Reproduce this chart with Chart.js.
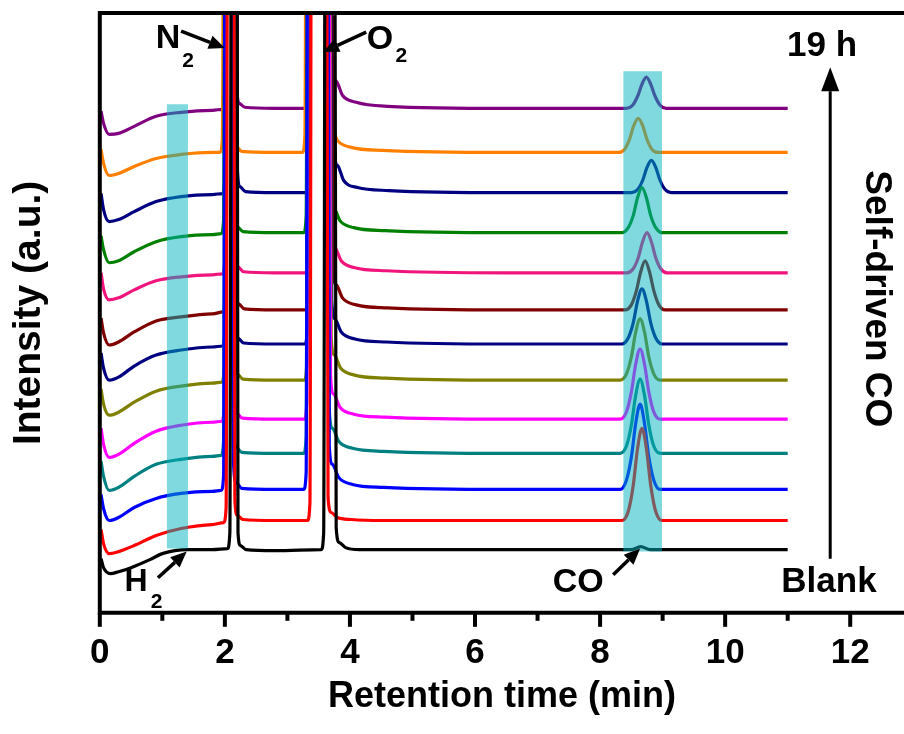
<!DOCTYPE html>
<html>
<head>
<meta charset="utf-8">
<script src="https://cdn.jsdelivr.net/npm/chart.js@4"></script>
<style>
  html, body { margin: 0; padding: 0; background: #fff; }
  #wrap { width: 904px; height: 734px; }
</style>
</head>
<body>
<div id="wrap"><canvas id="gc"></canvas></div>
<script>
// [retention time (min), intensity (a.u.)], bottom to top
const blank = [[0.02,54],[0.06,45],[0.17,39],[0.3,41],[0.5,45],[0.8,53],[1.0,59],[1.4,63],[1.8,63],
  [2.04,64],[2.08,80],[2.11,950],[2.19,950],[2.21,80],[2.25,67],[2.34,63],[2.8,62],
  [3.54,63],[3.58,80],[3.61,950],[3.75,950],[3.78,85],[3.83,70],[3.93,65],[4.15,63],[6.5,63],
  [8.5,63],[8.65,66],[8.8,63],[11,63]];
const run01 = [[0.02,83],[0.06,69],[0.15,59],[0.3,61],[0.55,67],[0.9,77],[1.3,84],[1.8,88],
  [1.98,90],[2.02,105],[2.05,950],[2.14,950],[2.16,112],[2.2,97],[2.29,93],[2.8,92],
  [3.32,92],[3.36,109],[3.39,950],[3.62,950],[3.65,115],[3.7,100],[3.8,95],[4.02,93],[4.52,92],[6.5,92],
  [8.35,92],[8.45,101],[8.53,127],[8.6,164],[8.67,184],[8.74,164],[8.81,127],[8.89,101],[8.99,92],[11,92]];
const run02 = [[0.02,118],[0.06,104],[0.15,92],[0.3,95],[0.55,105],[0.9,114],[1.3,119],[1.8,121],
  [1.94,122],[1.98,137],[2.01,950],[2.12,950],[2.14,147],[2.18,130],[2.27,124],[2.8,123],
  [3.26,123],[3.3,140],[3.33,950],[3.64,950],[3.67,166],[3.72,148],[3.82,135],[4.04,128],[4.54,125],[6.5,123],
  [8.32,123],[8.42,132],[8.5,155],[8.57,189],[8.64,208],[8.71,189],[8.78,155],[8.86,132],[8.96,123],[11,123]];
const run03 = [[0.02,151],[0.06,136],[0.15,122],[0.3,125],[0.55,136],[0.9,148],[1.3,153],[1.8,156],
  [1.94,157],[1.98,172],[2.01,950],[2.12,950],[2.14,182],[2.18,165],[2.27,160],[2.8,159],
  [3.26,159],[3.3,176],[3.33,950],[3.64,950],[3.67,202],[3.72,184],[3.82,171],[4.04,164],[4.54,161],[6.5,159],
  [8.32,159],[8.42,166],[8.5,187],[8.57,217],[8.64,233],[8.71,217],[8.78,187],[8.86,166],[8.96,159],[11,159]];
const run04 = [[0.02,184],[0.06,168],[0.15,155],[0.3,158],[0.55,169],[0.9,181],[1.3,187],[1.8,190],
  [1.95,191],[1.99,206],[2.02,950],[2.13,950],[2.15,216],[2.19,199],[2.28,194],[2.8,193],
  [3.27,193],[3.31,210],[3.34,950],[3.66,950],[3.69,236],[3.74,218],[3.84,205],[4.06,198],[4.56,195],[6.5,193],
  [8.32,193],[8.42,200],[8.5,220],[8.57,248],[8.64,263],[8.71,248],[8.78,220],[8.86,200],[8.96,193],[11,193]];
const run05 = [[0.02,223],[0.06,208],[0.15,197],[0.3,200],[0.55,210],[0.9,221],[1.3,226],[1.8,229],
  [1.95,230],[1.99,245],[2.02,950],[2.14,950],[2.16,255],[2.2,238],[2.29,233],[2.8,232],
  [3.27,232],[3.31,249],[3.34,950],[3.67,950],[3.7,275],[3.75,257],[3.85,244],[4.07,237],[4.57,234],[6.5,232],
  [8.32,232],[8.42,238],[8.5,255],[8.57,280],[8.64,293],[8.71,280],[8.78,255],[8.86,238],[8.96,232],[11,232]];
const run06 = [[0.02,259],[0.06,244],[0.15,232],[0.3,235],[0.55,246],[0.9,257],[1.3,262],[1.8,265],
  [1.96,266],[2.0,281],[2.03,950],[2.15,950],[2.17,291],[2.21,274],[2.3,269],[2.8,268],
  [3.28,268],[3.32,285],[3.35,950],[3.68,950],[3.71,311],[3.76,293],[3.86,280],[4.08,273],[4.58,270],[6.5,268],
  [8.35,268],[8.45,274],[8.53,289],[8.6,311],[8.67,323],[8.74,311],[8.81,289],[8.89,274],[8.99,268],[11,268]];
const run07 = [[0.02,294],[0.06,279],[0.15,267],[0.3,270],[0.55,280],[0.9,291],[1.3,295],[1.8,298],
  [1.97,300],[2.01,315],[2.04,950],[2.16,950],[2.18,325],[2.22,308],[2.31,303],[2.8,302],
  [3.3,302],[3.34,319],[3.37,950],[3.7,950],[3.73,345],[3.78,327],[3.88,314],[4.1,307],[4.6,304],[6.5,302],
  [8.4,302],[8.5,307],[8.58,321],[8.65,340],[8.72,351],[8.79,340],[8.86,321],[8.94,307],[9.04,302],[11,302]];
const run08 = [[0.02,339],[0.06,323],[0.15,312],[0.3,314],[0.55,322],[0.9,331],[1.3,335],[1.8,337],
  [1.96,338],[2.0,352],[2.03,950],[2.15,950],[2.17,362],[2.21,345],[2.3,340],[2.8,339],
  [3.29,339],[3.33,356],[3.36,950],[3.68,950],[3.71,384],[3.76,364],[3.86,351],[4.08,344],[4.58,341],[6.5,339],
  [8.43,339],[8.53,343],[8.61,354],[8.68,370],[8.75,379],[8.82,370],[8.89,354],[8.97,343],[9.07,339],[11,339]];
const run09 = [[0.02,376],[0.06,362],[0.15,349],[0.3,351],[0.55,360],[0.9,370],[1.3,375],[1.8,377],
  [1.94,378],[1.98,392],[2.01,950],[2.14,950],[2.16,402],[2.2,385],[2.29,380],[2.8,379],
  [3.26,379],[3.3,396],[3.33,950],[3.66,950],[3.69,424],[3.74,404],[3.84,391],[4.06,384],[4.56,381],[6.5,379],
  [8.35,379],[8.45,384],[8.53,396],[8.6,414],[8.67,424],[8.74,414],[8.81,396],[8.89,384],[8.99,379],[11,379]];
const run10 = [[0.02,418],[0.06,402],[0.15,390],[0.3,392],[0.55,400],[0.9,410],[1.3,415],[1.8,417],
  [1.96,418],[2.0,432],[2.03,950],[2.18,950],[2.2,442],[2.24,425],[2.33,420],[2.8,419],
  [3.29,419],[3.33,436],[3.36,950],[3.72,950],[3.75,462],[3.8,446],[3.9,431],[4.12,424],[4.62,421],[6.5,419],
  [8.5,419],[8.6,422],[8.68,431],[8.75,444],[8.82,451],[8.89,444],[8.96,431],[9.04,422],[9.14,419],[11,419]];
const run11 = [[0.02,462],[0.06,448],[0.15,436],[0.3,438],[0.55,445],[0.9,453],[1.3,457],[1.8,459],
  [1.92,459],[1.96,472],[1.99,950],[2.12,950],[2.14,480],[2.18,465],[2.27,460],[2.8,459],
  [3.24,459],[3.28,476],[3.31,950],[3.62,950],[3.65,504],[3.7,484],[3.8,471],[4.02,464],[4.52,461],[6.5,459],
  [8.29,459],[8.39,462],[8.47,472],[8.54,486],[8.61,493],[8.68,486],[8.75,472],[8.83,462],[8.93,459],[11,459]];
const run12 = [[0.02,500],[0.06,488],[0.15,477],[0.3,478],[0.55,485],[0.9,495],[1.3,499],[1.8,501],
  [1.96,502],[2.0,515],[2.03,950],[2.17,950],[2.19,525],[2.23,508],[2.32,504],[2.8,503],
  [3.29,503],[3.33,520],[3.36,950],[3.7,950],[3.73,545],[3.78,530],[3.88,516],[4.1,509],[4.6,505],[6.5,503],
  [8.42,503],[8.52,506],[8.6,515],[8.67,527],[8.74,534],[8.81,527],[8.88,515],[8.96,506],[9.06,503],[11,503]];

const traces = [blank, run01, run02, run03, run04, run05, run06, run07, run08, run09, run10, run11, run12];
const traceColors = ['#000000', '#ff0000', '#0000ff', '#008080', '#ff00ff', '#808000',
  '#000080', '#800000', '#f0147c', '#008000', '#000080', '#ff8000', '#800080'];

// highlighted retention windows: [start, end] in min, [low, high] in a.u.
const h2Window = [1.07, 1.41];
const h2Span = [64, 507];
const coWindow = [8.37, 8.99];
const coSpan = [61, 540];

const xTicks = [0, 2, 4, 6, 8, 10, 12];

const FONT = "Arial, 'Liberation Sans', sans-serif";

const bandSet = (win, span) => ({
  data: [[win[0], span[1]], [win[1], span[1]]],
  fill: { value: span[0] },
  backgroundColor: 'rgba(0,180,190,0.5)',
  borderWidth: 0,
  pointRadius: 0,
  order: 0
});

const notes = {
  id: 'notes',
  afterDatasetsDraw(chart) {
    const { ctx, chartArea: a, scales: { x, y } } = chart;
    const X = t => x.getPixelForValue(t);
    const Y = v => y.getPixelForValue(v);
    ctx.save();
    ctx.fillStyle = '#000';
    ctx.strokeStyle = '#000';

    // frame: top, left, bottom (right edge is outside the picture)
    ctx.lineWidth = 4;
    ctx.beginPath();
    ctx.moveTo(a.right, a.top);
    ctx.lineTo(a.left, a.top);
    ctx.lineTo(a.left, a.bottom);
    ctx.lineTo(a.right, a.bottom);
    ctx.stroke();

    x.ticks.forEach(tk => {
      const p = X(tk.value);
      const len = xTicks.includes(tk.value) ? 14 : 8;
      ctx.beginPath();
      ctx.moveTo(p, a.bottom);
      ctx.lineTo(p, a.bottom + len);
      ctx.stroke();
    });

    const text = (s, t, v, size, rot) => {
      ctx.save();
      ctx.font = `bold ${size}px ${FONT}`;
      ctx.textAlign = 'center';
      ctx.textBaseline = 'middle';
      ctx.translate(X(t), Y(v));
      if (rot) ctx.rotate(rot);
      ctx.fillText(s, 0, 0);
      ctx.restore();
    };
    const arrow = (t1, v1, t2, v2, w, head, half) => {
      const x1 = X(t1), y1 = Y(v1), x2 = X(t2), y2 = Y(v2);
      const ang = Math.atan2(y2 - y1, x2 - x1);
      const bx = x2 - head * Math.cos(ang), by = y2 - head * Math.sin(ang);
      ctx.lineWidth = w;
      ctx.beginPath();
      ctx.moveTo(x1, y1);
      ctx.lineTo(bx, by);
      ctx.stroke();
      ctx.beginPath();
      ctx.moveTo(x2, y2);
      ctx.lineTo(bx + half * Math.sin(ang), by - half * Math.cos(ang));
      ctx.lineTo(bx - half * Math.sin(ang), by + half * Math.cos(ang));
      ctx.closePath();
      ctx.fill();
    };

    text('N', 1.09, 572, 34);
    text('2', 1.41, 550, 21);
    arrow(1.30, 580, 2.0, 563, 3.5, 16, 7);
    text('O', 4.48, 571, 34);
    text('2', 4.82, 555, 21);
    arrow(4.26, 579, 3.57, 559, 3.5, 16, 7);
    text('H', 0.58, 31, 32);
    text('2', 0.91, 11, 21);
    arrow(0.93, 35, 1.39, 61, 3.5, 16, 7);
    text('CO', 7.65, 30, 34);
    arrow(8.21, 38, 8.64, 64, 3.5, 16, 7);
    text('19 h', 11.55, 565, 35);
    arrow(11.68, 54, 11.68, 544, 3, 24, 9);
    text('Blank', 11.66, 30, 35);
    text('Self-driven CO', 12.42, 313, 37, Math.PI / 2);
    ctx.restore();
  }
};

new Chart(document.getElementById('gc'), {
  type: 'line',
  data: {
    datasets: [
      bandSet(h2Window, h2Span),
      bandSet(coWindow, coSpan),
      ...traces.map((d, i) => ({
        data: d,
        borderColor: traceColors[i],
        borderWidth: 3.2,
        pointRadius: 0,
        fill: false,
        cubicInterpolationMode: 'monotone',
        order: 1
      }))
    ]
  },
  options: {
    responsive: true,
    maintainAspectRatio: false,
    animation: false,
    layout: { padding: { top: 13, right: 0, left: 0, bottom: 0 } },
    plugins: { legend: { display: false }, tooltip: { enabled: false } },
    scales: {
      x: {
        type: 'linear',
        min: 0,
        max: 12.86,
        grid: { display: false, drawTicks: false },
        border: { display: false },
        ticks: {
          stepSize: 1,
          includeBounds: false,
          autoSkip: false,
          maxRotation: 0,
          padding: 20,
          color: '#000',
          font: { family: FONT, size: 35, weight: 'bold' },
          callback: v => (xTicks.includes(v) ? String(v) : '')
        },
        title: {
          display: true,
          text: 'Retention time (min)',
          color: '#000',
          font: { family: FONT, size: 36, weight: 'bold' },
          padding: { top: -19, bottom: 15 }
        }
      },
      y: {
        min: 0,
        max: 598,
        grid: { display: false, drawTicks: false },
        border: { display: false },
        ticks: { display: false },
        title: {
          display: true,
          text: 'Intensity (a.u.)',
          color: '#000',
          font: { family: FONT, size: 39, weight: 'bold' },
          padding: { top: 6, bottom: 47 }
        }
      }
    }
  },
  plugins: [notes]
});
</script>
</body>
</html>
